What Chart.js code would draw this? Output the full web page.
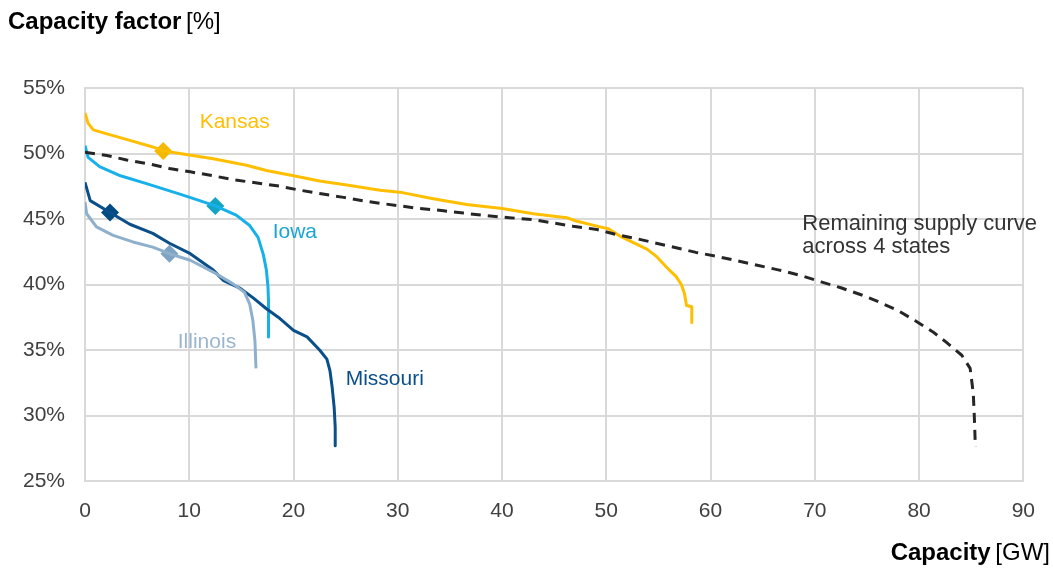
<!DOCTYPE html>
<html>
<head>
<meta charset="utf-8">
<script src="https://cdn.jsdelivr.net/npm/chart.js@4.4.1/dist/chart.umd.min.js"></script>
<style>
  html, body { margin: 0; padding: 0; background: #fff; }
  #wrap { width: 1053px; height: 569px; position: relative; }
</style>
</head>
<body>
<div id="wrap"><canvas id="supplyChart" width="1053" height="569"></canvas></div>
<script>
// Supply curves (capacity in GW, capacity factor in %)
const kansasCap = [0, 0.3, 0.8, 2.1, 4.3, 6.5, 7.5, 9.1, 12.3, 15.5, 17.4, 20.0, 22.5, 25.1, 28.3, 30.2, 33.4, 36.6, 40.0, 43.0, 46.2, 47.1, 49.4, 50.2, 51.3, 52.6, 53.9, 54.8, 55.8, 56.7, 57.2, 57.5, 57.7, 58.2, 58.2];
const kansasCF = [53.1, 52.3, 51.8, 51.5, 51.0, 50.5, 50.2, 50.0, 49.6, 49.1, 48.7, 48.3, 47.9, 47.6, 47.2, 47.05, 46.55, 46.1, 45.8, 45.4, 45.1, 44.85, 44.4, 44.25, 43.7, 43.2, 42.7, 42.15, 41.3, 40.6, 40.0, 39.3, 38.4, 38.3, 37.1];

const iowaCap = [0, 0.3, 1.4, 3.4, 5.9, 9.1, 11.0, 12.5, 14.5, 15.8, 16.6, 17.1, 17.4, 17.55, 17.6, 17.6];
const iowaCF = [50.6, 49.7, 49.0, 48.3, 47.7, 46.9, 46.4, 46.0, 45.3, 44.5, 43.6, 42.3, 41.1, 39.8, 38.8, 36.0];

const missouriCap = [0, 0.5, 2.4, 4.3, 6.5, 8.1, 10.1, 12.3, 13.3, 14.9, 16.1, 17.4, 18.7, 20.0, 21.3, 22.5, 23.2, 23.5, 23.7, 23.9, 24.0, 24.0];
const missouriCF = [47.8, 46.4, 45.5, 44.6, 43.9, 43.15, 42.35, 41.1, 40.3, 39.7, 39.0, 38.15, 37.4, 36.5, 36.0, 35.0, 34.3, 33.4, 32.2, 30.6, 29.1, 27.7];

const illinoisCap = [0, 0.16, 1.1, 2.7, 4.6, 6.5, 8.1, 10.1, 12.3, 14.2, 15.3, 15.8, 16.1, 16.3, 16.4];
const illinoisCF = [46.3, 45.4, 44.4, 43.75, 43.25, 42.85, 42.35, 41.85, 40.95, 40.05, 39.4, 38.5, 37.25, 35.7, 33.6];

const remainingCap = [0, 2.1, 4.0, 6.2, 8.1, 10.1, 12.3, 14.2, 16.5, 18.7, 20.6, 22.5, 24.8, 27.0, 28.3, 30.2, 32.1, 34.2, 36.3, 38.5, 40.7, 43.0, 44.9, 46.8, 49.1, 51.0, 52.9, 54.8, 56.7, 58.6, 60.6, 62.6, 64.6, 66.6, 68.6, 70.6, 72.5, 74.5, 76.2, 78.0, 79.6, 81.3, 82.6, 84.1, 84.9, 85.2, 85.3, 85.4];
const remainingCF = [50.1, 49.85, 49.5, 49.2, 48.85, 48.6, 48.3, 48.0, 47.75, 47.5, 47.2, 46.95, 46.65, 46.35, 46.2, 46.0, 45.8, 45.65, 45.45, 45.25, 45.1, 44.95, 44.7, 44.45, 44.2, 43.8, 43.5, 43.15, 42.8, 42.45, 42.15, 41.8, 41.45, 41.1, 40.7, 40.2, 39.75, 39.2, 38.65, 38.0, 37.25, 36.4, 35.6, 34.6, 33.6, 31.7, 29.9, 27.6];

// Highlighted points (diamonds)
const markerNames = ['Kansas', 'Iowa', 'Missouri', 'Illinois'];
const markerCap = [7.5, 12.5, 2.4, 8.1];
const markerCF = [50.2, 46.0, 45.5, 42.35];

// Axis ticks
const xTicks = [0, 10, 20, 30, 40, 50, 60, 70, 80, 90];
const yTicks = [25, 30, 35, 40, 45, 50, 55];

// Series labels placed in data coordinates
const labelText = ['Kansas', 'Iowa', 'Illinois', 'Missouri', 'Remaining supply curve', 'across 4 states'];
const labelCap = [11.0, 18.0, 8.9, 25.0, 68.8, 68.8];
const labelCF = [52.4, 44.0, 35.6, 32.8, 44.65, 42.9];

const colors = {
    kansas: '#FFBF00',
    iowa: '#17B0EA',
    missouri: '#0B4F8A',
    illinois: '#8FB0CC',
    remaining: '#262626',
    grid: '#D9D9D9',
    text: '#404040'
};
const markerColors = ['#F5B800', '#14A5C4', '#004C82', '#7FA3C2'];
const labelColors = [colors.kansas, '#1AA5D4', '#9BB5CE', colors.missouri, '#333333', '#333333'];
const labelSizes = [21, 21, 21, 21, 22, 22];

const FONT = '"Liberation Sans", Arial, sans-serif';

function toPoints(xs, ys) {
    return xs.map((x, i) => ({ x: x, y: ys[i] }));
}

function curve(label, xs, ys, color, dash) {
    return {
        label: label,
        data: toPoints(xs, ys),
        showLine: true,
        borderColor: color,
        backgroundColor: color,
        borderWidth: 3,
        borderDash: dash || [],
        borderJoinStyle: 'round',
        pointRadius: 0,
        tension: 0
    };
}

// Draws axis titles and in-plot labels
const textPlugin = {
    id: 'textPlugin',
    afterDraw(chart) {
        const ctx = chart.ctx;
        const xs = chart.scales.x;
        const ys = chart.scales.y;
        ctx.save();
        ctx.textBaseline = 'middle';

        // y axis title: bold + regular
        ctx.fillStyle = '#000';
        ctx.textAlign = 'left';
        ctx.font = 'bold 24px ' + FONT;
        const boldY = 'Capacity factor';
        ctx.fillText(boldY, 8, 22);
        const w1 = ctx.measureText(boldY + ' ').width;
        ctx.font = '24px ' + FONT;
        ctx.fillText('[%]', 8 + w1 - 2, 22);

        // x axis title, right aligned
        ctx.textAlign = 'right';
        ctx.font = '24px ' + FONT;
        const unitX = '[GW]';
        const wu = ctx.measureText(' ' + unitX).width;
        ctx.fillText(unitX, 1050, 553);
        ctx.font = 'bold 24px ' + FONT;
        ctx.fillText('Capacity', 1050 - wu + 2, 553);

        // series labels
        ctx.textAlign = 'left';
        labelText.forEach((t, i) => {
            ctx.font = labelSizes[i] + 'px ' + FONT;
            ctx.fillStyle = labelColors[i];
            ctx.fillText(t, xs.getPixelForValue(labelCap[i]), ys.getPixelForValue(labelCF[i]));
        });
        ctx.restore();
    }
};

const datasets = [
    curve('Remaining supply curve across 4 states', remainingCap, remainingCF, colors.remaining, [10, 7]),
    curve('Illinois', illinoisCap, illinoisCF, colors.illinois),
    curve('Missouri', missouriCap, missouriCF, colors.missouri),
    curve('Iowa', iowaCap, iowaCF, colors.iowa),
    curve('Kansas', kansasCap, kansasCF, colors.kansas),
    {
        label: 'Markers',
        data: toPoints(markerCap, markerCF),
        showLine: false,
        pointStyle: 'rectRot',
        pointRadius: 9,
        pointBackgroundColor: markerColors,
        pointBorderColor: markerColors,
        pointBorderWidth: 0
    }
];

const ctx = document.getElementById('supplyChart').getContext('2d');
new Chart(ctx, {
    type: 'scatter',
    data: { datasets: datasets },
    options: {
        responsive: false,
        animation: false,
        layout: { padding: { left: 0, right: 29, top: 88, bottom: 0 } },
        plugins: {
            legend: { display: false },
            tooltip: { enabled: false }
        },
        scales: {
            x: {
                type: 'linear',
                min: 0,
                max: 90,
                afterBuildTicks(scale) {
                    scale.ticks = xTicks.map(v => ({ value: v }));
                },
                afterFit(scale) {
                    scale.height = 569 - 481;
                },
                grid: { color: colors.grid, lineWidth: 2, drawTicks: false },
                border: { color: colors.grid, width: 2 },
                ticks: {
                    color: colors.text,
                    padding: 18,
                    maxRotation: 0,
                    font: { family: FONT, size: 21 }
                }
            },
            y: {
                type: 'linear',
                min: 25,
                max: 55,
                afterBuildTicks(scale) {
                    scale.ticks = yTicks.map(v => ({ value: v }));
                },
                afterFit(scale) {
                    scale.width = 85;
                },
                grid: { color: colors.grid, lineWidth: 2, drawTicks: false },
                border: { color: colors.grid, width: 2 },
                ticks: {
                    color: colors.text,
                    padding: 20,
                    font: { family: FONT, size: 21 },
                    callback: v => v + '%'
                }
            }
        }
    },
    plugins: [textPlugin]
});
</script>
</body>
</html>
